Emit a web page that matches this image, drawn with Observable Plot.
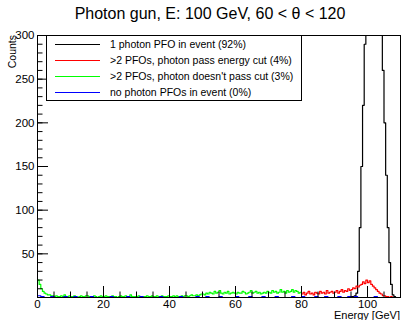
<!DOCTYPE html>
<html><head><meta charset="utf-8">
<script src="https://cdn.jsdelivr.net/npm/d3@7"></script>
<script src="https://cdn.jsdelivr.net/npm/@observablehq/plot@0.6"></script>
<style>body{margin:0;background:#fff} svg{display:block}</style>
</head><body><div id="chart"></div>
<script>
const title = "Photon gun, E: 100 GeV, 60 < θ < 120";
const xLabel = "Energy [GeV]";
const yLabel = "Counts";
const legendLabels = [
  "1 photon PFO in event (92%)",
  ">2 PFOs, photon pass energy cut (4%)",
  ">2 PFOs, photon doesn't pass cut (3%)",
  "no photon PFOs in event (0%)"
];
const colors = ["#000000", "#ff0000", "#00ff00", "#0000ff"];

const binWidth = 0.5;

// 1 photon PFO (black), bins from 94 GeV
const blackStart = 94;
const blackCounts = [0,0,1,1,2,5,30,80,150,220,290,380,470,560,620,650,640,600,520,420,
  320,260,200,140,80,40,15,3,1,0];

// >2 PFOs pass cut (red), bins from 80 GeV
const redStart = 80;
const redCounts = [4,6,3,5,7,4,5,3,6,5, 4,7,5,6,4,8,5,6,7,5,
  6,8,5,7,9,6,8,7,10,8, 9,11,10,13,12,14, 15,18,16,20,17,19,
  15,13,11,9, 7,5,4,2, 2,1,1,0,1,0];

// >2 PFOs fail cut (green), bins from 0 GeV
const greenStart = 0;
const greenCounts = [20,15,10,7,5,4,3,3,2,2,
  1,2,1,1,2,1,3,1,1,2, 1,1,2,1,0,1,2,1,1,2, 2,1,1,1,2,1,0,1,2,1,
  1,2,1,1,1,2,1,1,0,1, 2,1,1,2,1,1,3,1,1,1, 1,2,1,0,1,1,2,1,1,2,
  1,1,2,1,1,2,1,1,1,2, 1,1,2,1,2,1,1,2,1,2, 2,1,2,3,2,2,3,2,3,4,
  4,3,5,4,6,5,4,7,5,6, 8,5,4,6,5,7,4,5,6,5, 4,6,5,5,7,6,4,5,6,8,
  5,6,7,5,6,4,5,6,5,7, 6,5,8,6,7,5,6,9,6,7, 5,8,6,7,9,6,8,7,5,6];

// no photon PFOs (blue), 1 GeV bins from 0 GeV
const blueStart = 0;
const blueBinWidth = 1;
const blueCounts = [2,1,0,0,1,0,0,0,1,0, 0,1,0,0,0,0,1,0,0,0, 0,0,1,0,0,0,0,1,0,0,
  0,1,0,0,0,0,0,1,0,0, 0,0,0,1,0,0,0,0,1,0, 0,1,0,0,0,1,0,0,0,0, 1,0,0,0,1,0,0,0,1,0,
  0,0,1,0,0,0,0,1,0,0, 1,0,0,0,1,0,0,1,0,0, 0,1,0,0,1,0,1,0,0,0, 0,0,1,0,0,0,0,0,0,0];

const yMajor = [0,50,100,150,200,250,300];
const yMinor = d3.range(0, 301, 10);
const yTickLabels = [50,100,150,200,250,300];
const xMajor = [0,20,40,60,80,100];
const xMinor = d3.range(0, 111, 5);
const xTickLabels = [0,20,40,60,80,100];

function steps(start, w, counts) {
  const pts = counts.map((c, i) => ({x: start + i * w, y: c}));
  pts.push({x: start + counts.length * w, y: counts[counts.length - 1]});
  return pts;
}

const W = 402, H = 320, mT = 35, mB = 23, mL = 37, mR = 2;
const fw = W - mL - mR, fh = H - mT - mB;
const font = "'Liberation Sans', Arial, Helvetica, sans-serif";

const lineOpts = (c) => ({x: "x", y: "y", curve: "step-after", stroke: c, strokeWidth: 1.2, clip: true});

const plot = Plot.plot({
  width: W, height: H,
  marginTop: mT, marginBottom: mB, marginLeft: mL, marginRight: mR,
  x: {domain: [0, 110]},
  y: {domain: [0, 300]},
  style: {fontFamily: font, fontSize: "11.5px", color: "#000", background: "#fff"},
  marks: [
    Plot.line(steps(blackStart, binWidth, blackCounts), lineOpts(colors[0])),
    Plot.line(steps(redStart, binWidth, redCounts), lineOpts(colors[1])),
    Plot.line(steps(greenStart, binWidth, greenCounts), lineOpts(colors[2])),
    Plot.line(steps(blueStart, blueBinWidth, blueCounts), lineOpts(colors[3])),
    Plot.tickY(yMinor, {y: d => d, insetRight: fw - 5.5, stroke: "#000", strokeWidth: 1}),
    Plot.tickY(yMajor, {y: d => d, insetRight: fw - 11, stroke: "#000", strokeWidth: 1}),
    Plot.tickX(xMinor, {x: d => d, insetTop: fh - 5.5, stroke: "#000", strokeWidth: 1}),
    Plot.tickX(xMajor, {x: d => d, insetTop: fh - 11, stroke: "#000", strokeWidth: 1}),
    Plot.axisY(yTickLabels, {tickSize: 0, tickPadding: 3, label: null}),
    Plot.axisX(xTickLabels, {tickSize: 0, tickPadding: 2, label: null}),
    Plot.frame({stroke: "#000"})
  ]
});

const svg = d3.select(plot);
svg.append("text").attr("x", 210).attr("y", 19).attr("text-anchor", "middle")
  .attr("font-family", font).attr("font-size", 16).attr("fill", "#000").text(title);
svg.append("text").attr("transform", "translate(16,35) rotate(-90)").attr("text-anchor", "end")
  .attr("font-family", font).attr("font-size", 10.5).attr("fill", "#000").text(yLabel);
svg.append("text").attr("x", 400).attr("y", 319).attr("text-anchor", "end")
  .attr("font-family", font).attr("font-size", 11).attr("fill", "#000").text(xLabel);

const lg = svg.append("g");
lg.append("rect").attr("x", 46.5).attr("y", 35.5).attr("width", 255).attr("height", 65)
  .attr("fill", "#fff").attr("stroke", "#000");
const rowsY = [44.5, 60.5, 76.5, 92.5];
legendLabels.forEach((t, i) => {
  lg.append("line").attr("x1", 55).attr("x2", 100).attr("y1", rowsY[i]).attr("y2", rowsY[i])
    .attr("stroke", colors[i]).attr("stroke-width", 1.2);
  lg.append("text").attr("x", 110).attr("y", rowsY[i]).attr("dy", "0.35em").attr("text-anchor", "start")
    .attr("font-family", font).attr("font-size", 10.5).attr("fill", "#000").text(t);
});

document.getElementById("chart").appendChild(plot);
</script>
</body></html>
